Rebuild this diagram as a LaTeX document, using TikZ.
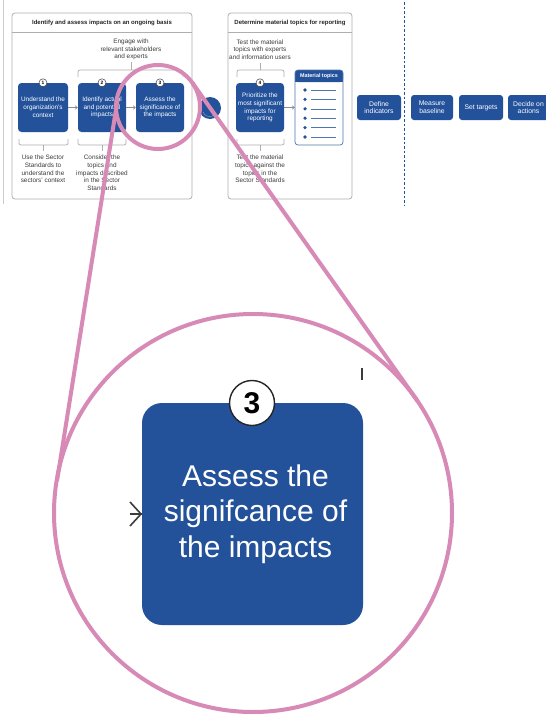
\documentclass[tikz,border=0pt]{standalone}
\usepackage{fontspec}
\setmainfont{Liberation Sans}
\usetikzlibrary{arrows.meta}

\definecolor{griblue}{RGB}{35,82,155}
\definecolor{lenspink}{RGB}{215,138,182}
\definecolor{framegray}{RGB}{175,175,175}
\definecolor{inkgray}{RGB}{60,60,60}

\tikzset{
  frameline/.style={draw=framegray, line width=0.8pt, rounded corners=3pt},
  stepbox/.style={fill=griblue, rounded corners=3.5pt, minimum width=48pt, minimum height=49pt,
    text=white, align=center, inner sep=0pt, font=\fontsize{6.4}{7.8}\selectfont},
  badge/.style={circle, draw=inkgray, fill=white, line width=0.5pt, minimum size=8pt, inner sep=0pt,
    font=\bfseries\fontsize{4.8}{5}\selectfont},
  note/.style={align=center, text=inkgray, inner sep=0pt, font=\fontsize{6.4}{7.6}\selectfont},
  headtitle/.style={align=center, text=black!85, inner sep=0pt, font=\bfseries\fontsize{6}{7}\selectfont},
  bracket/.style={draw=framegray, line width=0.7pt, rounded corners=2pt},
  flow/.style={draw=framegray!80!black, line width=0.6pt, -{Straight Barb[length=2.2pt,width=3.6pt]}},
  actbox/.style={fill=griblue, rounded corners=3pt, minimum height=25pt, text=white, align=center,
    inner sep=0pt, font=\fontsize{6.8}{7.8}\selectfont},
  lens/.style={draw=lenspink, line width=4pt},
  bigbox/.style={fill=griblue, rounded corners=20pt, minimum width=221pt, minimum height=222pt,
    text=white, align=center, inner sep=0pt, font=\fontsize{30}{35.5}\selectfont},
  bigbadge/.style={circle, draw=black!85, fill=white, line width=1.4pt, minimum size=45pt, inner sep=0pt,
    font=\bfseries\fontsize{30}{32}\selectfont}
}

\begin{document}
\begin{tikzpicture}[x=1pt, y=-1pt]
\useasboundingbox (0,0) rectangle (546,715);
\fill[white] (0,0) rectangle (546,715);

% ---------- process overview strip ----------
\draw[black!20, line width=0.8pt] (3.5,0) -- (3.5,204);

% first stage frame
\draw[frameline] (12,13) rectangle (192,199);
\draw[draw=framegray, line width=0.8pt] (12,32) -- (192,32);
\node[headtitle] (titleA) at (102,23) {Identify and assess impacts on an ongoing basis};

% second stage frame
\draw[frameline] (228,13) rectangle (352,199);
\draw[draw=framegray, line width=0.8pt] (228,32) -- (352,32);
\node[headtitle] (titleB) at (290,23) {Determine material topics for reporting};

% steps
\node[stepbox, minimum width=50pt] (s1) at (43,107.5) {Understand the\\organization's\\context};
\node[stepbox] (s2) at (102,107.5) {Identify actual\\and potential\\impacts};
\node[stepbox] (s3) at (160,107.5) {Assess the\\significance of\\the impacts};
\node[stepbox] (s4) at (260,107.5) {Prioritize the\\most significant\\impacts for\\reporting};

\node[badge] (b1) at (s1.north) {1};
\node[badge] (b2) at (s2.north) {2};
\node[badge] (b3) at (s3.north) {3};
\node[badge] (b4) at (s4.north) {4};

\draw[flow] (s1) -- (s2);
\draw[flow] (s2) -- (s3);

% continuous loop marker
\node[circle, fill=griblue, minimum size=22pt, inner sep=0pt] (loop) at (210,108) {};
\draw[griblue!60!white, line width=0.5pt] (203,112) arc[start angle=200, end angle=330, radius=7pt];

% engagement bracket over steps 2 and 3
\node[note] (engage) at (131,49.5) {Engage with\\relevant stakeholders\\and experts};
\draw[bracket] (78,77) -- (78,70) -- (183,70) -- (183,77);
\draw[draw=framegray, line width=0.7pt] (131,62) -- (131,70);

% lower brackets and notes
\draw[bracket] (19,139) -- (19,145) -- (68,145) -- (68,139);
\draw[draw=framegray, line width=0.7pt] (43,145) -- (43,151);
\node[note, anchor=north] (noteA) at (43,155) {Use the Sector\\Standards to\\understand the\\sectors' context};

\draw[bracket] (78,139) -- (78,145) -- (126,145) -- (126,139);
\draw[draw=framegray, line width=0.7pt] (102,145) -- (102,151);
\node[note, anchor=north] (noteB) at (102,155) {Consider the\\topics and\\impacts described\\in the Sector\\Standards};

% step 4 brackets and notes
\node[note] (testA) at (260,49.5) {Test the material\\topics with experts\\and information users};
\draw[bracket] (237,77) -- (237,70) -- (284,70) -- (284,77);
\draw[draw=framegray, line width=0.7pt] (260,63) -- (260,70);
\draw[bracket] (237,139) -- (237,145) -- (284,145) -- (284,139);
\draw[draw=framegray, line width=0.7pt] (260,145) -- (260,151);
\node[note, anchor=north] (testB) at (260,155) {Test the material\\topics against the\\topics in the\\Sector Standards};

% material topics list
\fill[white] (295,70) rectangle (343,145);
\fill[griblue, rounded corners=3pt] (295,70) rectangle (343,82);
\fill[griblue] (295,78) rectangle (343,82);
\draw[griblue!80!white, line width=0.7pt, rounded corners=3pt] (295,70) rectangle (343,145);
\node[text=white, inner sep=0pt, font=\bfseries\fontsize{5.4}{6}\selectfont] (topicshead) at (319,76.3) {Material topics};
\node[inner sep=0pt, minimum width=48pt, minimum height=75pt] (topics) at (319,107.5) {};
\foreach \yy in {90,99.4,108.8,118.2,127.6,137} {
  \fill[griblue] (305,\yy) circle (1.8pt);
  \draw[griblue!80!white, line width=0.6pt] (311,\yy) -- (336,\yy);
}
\draw[flow] (s4) -- (topics);

% management actions
\node[actbox, minimum width=44pt] (define) at (379,107.5) {Define\\indicators};
\draw[griblue, line width=0.8pt, dash pattern=on 2.5pt off 2pt] (404,2) -- (404,205);
\node[actbox, minimum width=42pt] (measure) at (432,107.5) {Measure\\baseline};
\node[actbox, minimum width=44pt] (targets) at (481,107.5) {Set targets};
\node[actbox, minimum width=41pt] (decide) at (528.5,107.5) {Decide on\\actions};

% ---------- magnified step 3 ----------
\node[bigbox] (big) at (252.5,514) {\hspace*{6pt}Assess the\\\hspace*{6pt}signifcance of\\\hspace*{6pt}the impacts};
\node[bigbadge] (bigno) at (252,403) {3};
\coordinate (inA) at (130,514);
\draw[inkgray, line width=1.6pt, line join=miter] (130,502) -- (141,514) -- (130,526);
\draw[inkgray, line width=1.6pt] (inA) -- (big.west);
\draw[inkgray, line width=2pt] (362,368) -- (362,380);

% ---------- magnifier lens ----------
\coordinate (lensC) at (158,107);
\coordinate (zoomC) at (253,513);
\draw[lens] (lensC) circle (42pt);
\draw[lens] (zoomC) circle (199pt);
\coordinate (tR1) at (192.3,82.7);
\coordinate (tR2) at (417.5,401);
\coordinate (tL1) at (117.5,100);
\coordinate (tL2) at (57,481);
\draw[lens] (tR1) -- (tR2);
\draw[lens] (tL1) -- (tL2);
\end{tikzpicture}
\end{document}
